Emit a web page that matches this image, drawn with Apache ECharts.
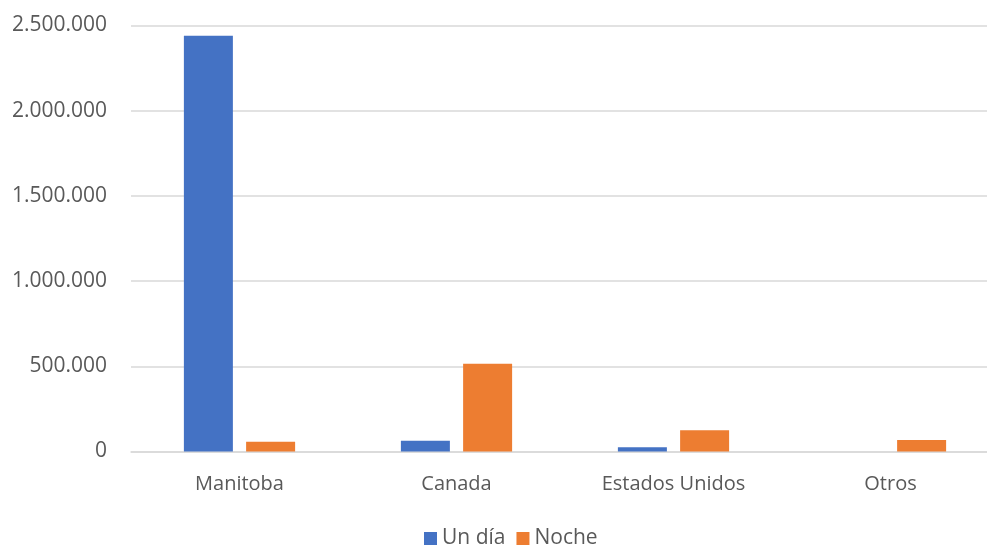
<!DOCTYPE html>
<html>
<head>
<meta charset="utf-8">
<script src="https://cdn.jsdelivr.net/npm/echarts@6/dist/echarts.min.js"></script>
<style>
html,body{margin:0;padding:0;background:#fff;}
#c{width:987px;height:545px;}
</style>
</head>
<body>
<div id="c"></div>
<script>
const categories = ["Manitoba", "Canada", "Estados Unidos", "Otros"];
const seriesNames = ["Un día", "Noche"];
const unDia = [2440000, 63000, 25000, 0];
const noche = [57000, 515000, 124000, 67000];
const yTicks = [0, 500000, 1000000, 1500000, 2000000, 2500000];

const fmt = v => String(v).replace(/\B(?=(\d{3})+(?!\d))/g, ".");
const font = "'Open Sans', 'Noto Sans', sans-serif";
const chart = echarts.init(document.getElementById('c'));
chart.setOption({
  animation: false,
  textStyle: { fontFamily: font },
  grid: { left: 131, top: 25.5, width: 868, height: 426, outerBoundsMode: 'none', containLabel: false },
  legend: {
    data: seriesNames,
    top: 523,
    left: 419,
    itemWidth: 13, itemHeight: 13, itemGap: 11,
    icon: 'rect',
    textStyle: { fontSize: 21, color: '#595959', fontFamily: font }
  },
  xAxis: {
    type: 'category',
    data: categories,
    axisLine: { lineStyle: { color: '#d9d9d9', width: 1.5 } },
    axisTick: { show: false },
    axisLabel: { color: '#595959', fontSize: 20, margin: 23, fontFamily: font }
  },
  yAxis: {
    type: 'value',
    min: yTicks[0], max: yTicks[yTicks.length - 1], interval: 500000,
    axisLine: { show: false },
    axisTick: { show: false },
    splitLine: { lineStyle: { color: '#d9d9d9', width: 1.5 } },
    axisLabel: { color: '#595959', fontSize: 21, margin: 24, fontFamily: font, formatter: v => fmt(v) }
  },
  series: [
    { name: seriesNames[0], type: 'bar', data: unDia, barWidth: 49, barGap: '27%',
      itemStyle: { color: '#4472c4' } },
    { name: seriesNames[1], type: 'bar', data: noche, barWidth: 49,
      itemStyle: { color: '#ed7d31' } }
  ]
});
</script>
</body>
</html>
